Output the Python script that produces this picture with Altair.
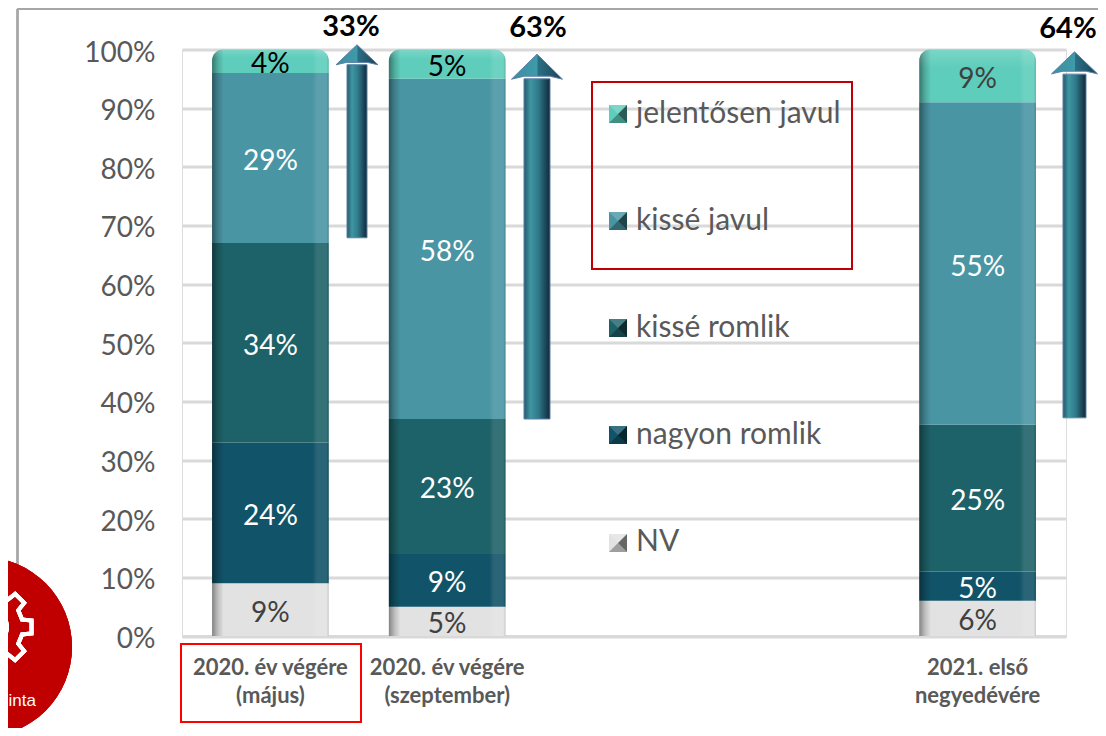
import math
import altair as alt
import pandas as pd

# ---------- data ----------
categories = ["2020. év végére|(május)", "2020. év végére|(szeptember)", " ", "  ", "2021. első|negyedévére"]
bar_categories = [categories[0], categories[1], categories[4]]
series_top_down = ["jelentősen javul", "kissé javul", "kissé romlik", "nagyon romlik", "NV"]
series_colors = ["#5ECDBB", "#4A95A4", "#1D6268", "#115368", "#E2E2E2"]
v_nv = [9, 5, 6]
v_nagyon = [24, 9, 5]
v_kisse_rom = [34, 23, 25]
v_kisse_jav = [29, 58, 55]
v_jelent = [4, 5, 9]
arrow_labels = ["33%", "63%", "64%"]
arrow_base = [67.9, 37, 37.2]
arrow_neck = [97.4, 95, 95.8]
arrow_tip = [100.8, 99.2, 99.6]
arrow_label_y = [103.9, 103.65, 103.55]

rows = []
for name, vals in [("NV", v_nv), ("nagyon romlik", v_nagyon), ("kissé romlik", v_kisse_rom),
                   ("kissé javul", v_kisse_jav), ("jelentősen javul", v_jelent)]:
    for c, v in zip(bar_categories, vals):
        rows.append({"cat": c, "series": name, "value": v, "order": 4 - series_top_down.index(name)})
df = pd.DataFrame(rows)
arrows = pd.DataFrame({"cat": bar_categories, "label": arrow_labels, "base": arrow_base,
                       "neck": arrow_neck, "tip": arrow_tip, "ly": arrow_label_y})

# ---------- style ----------
FONT = "Lato"
GREY = "#595959"
X0, Y0 = 182, 49.5  # page position of the plot origin
BAND = dict(paddingInner=0.34, paddingOuter=0.17)


def hgrad(stops):
    return alt.Gradient(gradient="linear", x1=0, x2=1, y1=0, y2=0,
                        stops=[alt.GradientStop(offset=o, color=c) for o, c in stops])


def vgrad(stops):
    return alt.Gradient(gradient="linear", x1=0, x2=0, y1=0, y2=1,
                        stops=[alt.GradientStop(offset=o, color=c) for o, c in stops])


x_enc = alt.X("cat:N", scale=alt.Scale(domain=categories, **BAND),
              axis=alt.Axis(title=None, ticks=False, labelAngle=0, labelFont=FONT, labelFontSize=22,
                            labelFontWeight="bold", labelColor=GREY, labelLimit=0, labelPadding=31,
                            labelLineHeight=28, labelExpr="split(datum.label, '|')",
                            domainColor="#D9D9D9", domainWidth=3, grid=False, labelBaseline="middle"))
y_scale = alt.Scale(domain=[0, 100], nice=False)
y_axis = alt.Axis(title=None, values=list(range(0, 101, 10)), labelExpr="datum.value + '%'", ticks=False,
                  domain=False, labelFont=FONT, labelFontSize=28, labelColor=GREY, labelPadding=27,
                  labelOffset=3.5, grid=True, gridColor="#D9D9D9", gridWidth=3)

color_enc = alt.Color("series:N", scale=alt.Scale(domain=series_top_down, range=series_colors),
                      legend=alt.Legend(title=None, orient="none", legendX=419, legendY=49,
                                        symbolType="square", symbolSize=324, symbolStrokeWidth=0, symbolOpacity=0,
                                        labelFont=FONT, labelFontSize=30, labelColor=GREY,
                                        rowPadding=77, labelOffset=5, labelLimit=0))

Y = alt.Y("y0:Q", scale=y_scale, axis=y_axis)
Y2 = alt.Y2("y1:Q")
is_top = "datum.series === 'jelentősen javul'"
side = hgrad([(0, "rgba(0,0,0,0.42)"), (0.05, "rgba(0,0,0,0.16)"), (0.10, "rgba(0,0,0,0)"),
              (0.86, "rgba(255,255,255,0)"), (0.90, "rgba(255,255,255,0.10)"), (0.98, "rgba(255,255,255,0.10)"),
              (1, "rgba(0,0,0,0.12)")])
R = 11

base_low = alt.Chart().transform_filter("!(" + is_top + ")")
base_top = alt.Chart().transform_filter(is_top)
bars = [
    base_low.mark_bar().encode(x=x_enc, y=Y, y2=Y2, color=color_enc),
    base_top.mark_bar(cornerRadiusTopLeft=R, cornerRadiusTopRight=R).encode(x=x_enc, y=Y, y2=Y2, color=color_enc),
    base_low.mark_bar(fill=side).encode(x=x_enc, y=Y, y2=Y2),
    base_top.mark_bar(fill=side, cornerRadiusTopLeft=R, cornerRadiusTopRight=R).encode(x=x_enc, y=Y, y2=Y2),
    base_top.mark_bar(fill=vgrad([(0, "rgba(255,255,255,0.18)"), (0.35, "rgba(255,255,255,0)")]),
                      cornerRadiusTopLeft=R, cornerRadiusTopRight=R).encode(x=x_enc, y=Y, y2=Y2),
]


def pct_text(test, color):
    return (alt.Chart().transform_filter(test).transform_calculate(mid="(datum.y0 + datum.y1) / 2",
                                                                   lab="datum.value + '%'")
            .mark_text(font=FONT, fontSize=28, color=color, baseline="middle", dy=4)
            .encode(x=x_enc, y=alt.Y("mid:Q", scale=y_scale, axis=y_axis), text="lab:N"))


late = "datum.cat === '" + categories[4] + "'"
texts = [
    pct_text("datum.series !== 'NV' && !(" + is_top + ")", "#FFFFFF"),
    pct_text("datum.series === 'NV'", "#404040"),
    pct_text(is_top + " && !(" + late + ")", "#000000"),
    pct_text(is_top + " && " + late, "#404040"),
]

# ---------- arrows ----------
arrow_geo = [(86.6, 20, 42, 20), (89.8, 26, 51, 25), (96.9, 23, 46, 22)]
label_off = [80.6, 90.8, 90.4]
shaft_fill = hgrad([(0, "#24596A"), (0.25, "#3F96A3"), (0.55, "#2F7A8A"), (0.8, "#1D4C5E"), (1, "#10293A")])
head_fill = hgrad([(0, "#3C8EA0"), (0.5, "#3F9AA9"), (0.52, "#2B6F83"), (1, "#1A4259")])
arrow_layers = []
for i, (off, sw, hw, hh) in enumerate(arrow_geo):
    one = arrows.iloc[[i]]
    arrow_layers.append(
        alt.Chart(one).mark_bar(size=sw, xOffset=off, fill=shaft_fill, stroke="#5D7FA8", strokeWidth=1)
        .encode(x=x_enc, y=alt.Y("base:Q", scale=y_scale, axis=y_axis), y2="neck:Q"))
    k = 2 * hh / hw
    path = f"M-1,{k:.3f}L0,0L1,{k:.3f}L0.5,{k*0.88:.3f}L-0.5,{k*0.88:.3f}Z"
    arrow_layers.append(
        alt.Chart(one).mark_point(shape=path, size=hw * hw, filled=True, opacity=1, fill=head_fill,
                                  stroke="#5D7FA8", strokeWidth=1, xOffset=off)
        .encode(x=x_enc, y=alt.Y("tip:Q", scale=y_scale, axis=y_axis)))
    arrow_layers.append(
        alt.Chart(one).mark_text(font=FONT, fontSize=29, fontWeight="bold", color="#000000", baseline="middle",
                                 xOffset=label_off[i])
        .encode(x=x_enc, y=alt.Y("ly:Q", scale=y_scale, axis=y_axis), text="label:N"))


# ---------- decorations (page pixels converted to plot coordinates) ----------
def px(x):
    return x - X0


def py(y):
    return y - Y0


frame = [
    alt.Chart(arrows).mark_rule(color="#A6A6A6", strokeWidth=2).encode(
        x=alt.value(px(17.5)), y=alt.value(py(9)), y2=alt.value(py(736))),
    alt.Chart(arrows).mark_rule(color="#A6A6A6", strokeWidth=2).encode(
        x=alt.value(px(17.5)), x2=alt.value(px(1106)), y=alt.value(py(9))),
]
circle = alt.Chart(arrows).mark_point(shape="circle", size=180 ** 2, filled=True, opacity=1, color="#C00000",
                                      strokeWidth=0).encode(x=alt.value(px(-18)), y=alt.value(py(647)))
pts = []
teeth = 8
for t in range(teeth):
    a = 2 * math.pi * t / teeth
    w = 2 * math.pi / teeth
    for da, r in [(-0.30, 0.78), (-0.20, 1.0), (0.20, 1.0), (0.30, 0.78)]:
        ang = a + da * w
        pts.append(f"{r * math.cos(ang):.3f},{r * math.sin(ang):.3f}")
gear_path = "M" + "L".join(pts) + "Z"
gear = alt.Chart(arrows).mark_point(shape=gear_path, size=82 ** 2, filled=False, opacity=1, stroke="#FFFFFF",
                                    strokeWidth=4).encode(x=alt.value(px(-9)), y=alt.value(py(627)))
hub = alt.Chart(arrows).mark_point(shape="circle", size=32 ** 2, filled=False, opacity=1, stroke="#FFFFFF",
                                   strokeWidth=4).encode(x=alt.value(px(-9)), y=alt.value(py(627)))
minta = alt.Chart(pd.DataFrame({"t": ["inta"]})).mark_text(
    font="Liberation Sans", fontSize=17, color="#FFFFFF", align="right", baseline="middle"
).encode(x=alt.value(px(36)), y=alt.value(py(701)), text="t:N")


def box(x1, x2, y1, y2, color):
    return alt.Chart(arrows).mark_rect(fillOpacity=0, stroke=color, strokeWidth=2).encode(
        x=alt.value(px(x1)), x2=alt.value(px(x2)), y=alt.value(py(y1)), y2=alt.value(py(y2)))


boxes = [box(592, 852, 82, 269, "#C00000"), box(181, 361, 644, 722, "#FF0000")]

# bevelled legend keys
bevel = []
for i, ly in enumerate([114, 221, 328, 435, 543]):
    bevel.append(alt.Chart(arrows.iloc[[0]]).mark_point(shape="square", size=324, filled=True,
                                                        color=series_colors[i], opacity=1, strokeWidth=0)
                 .encode(x=alt.value(px(618)), y=alt.value(py(ly))))
    for path, col, op in [("M-1,1L0,0L1,1Z", "#000000", 0.30), ("M1,-1L0,0L1,1Z", "#000000", 0.55),
                          ("M-1,-1L0,0L1,-1Z", "#FFFFFF", 0.18)]:
        bevel.append(alt.Chart(arrows.iloc[[0]]).mark_point(shape=path, size=324, filled=True, color=col,
                                                            opacity=op, strokeWidth=0)
                     .encode(x=alt.value(px(618)), y=alt.value(py(ly))))

decor = frame + [circle, gear, hub, minta] + boxes

stacked = alt.layer(*bars, *texts, data=df).transform_stack(
    stack="value", groupby=["cat"], as_=["y0", "y1"], sort=[alt.SortField("order")])

chart = alt.layer(*decor, stacked, *arrow_layers, *bevel).properties(
    width=884, height=586.5, autosize="none",
    padding={"left": 174, "top": 41.5, "right": 32, "bottom": 92},
).configure_view(stroke=None).configure(background="#FFFFFF")

chart.save("out.html", embed_options={"renderer": "svg", "actions": False})
